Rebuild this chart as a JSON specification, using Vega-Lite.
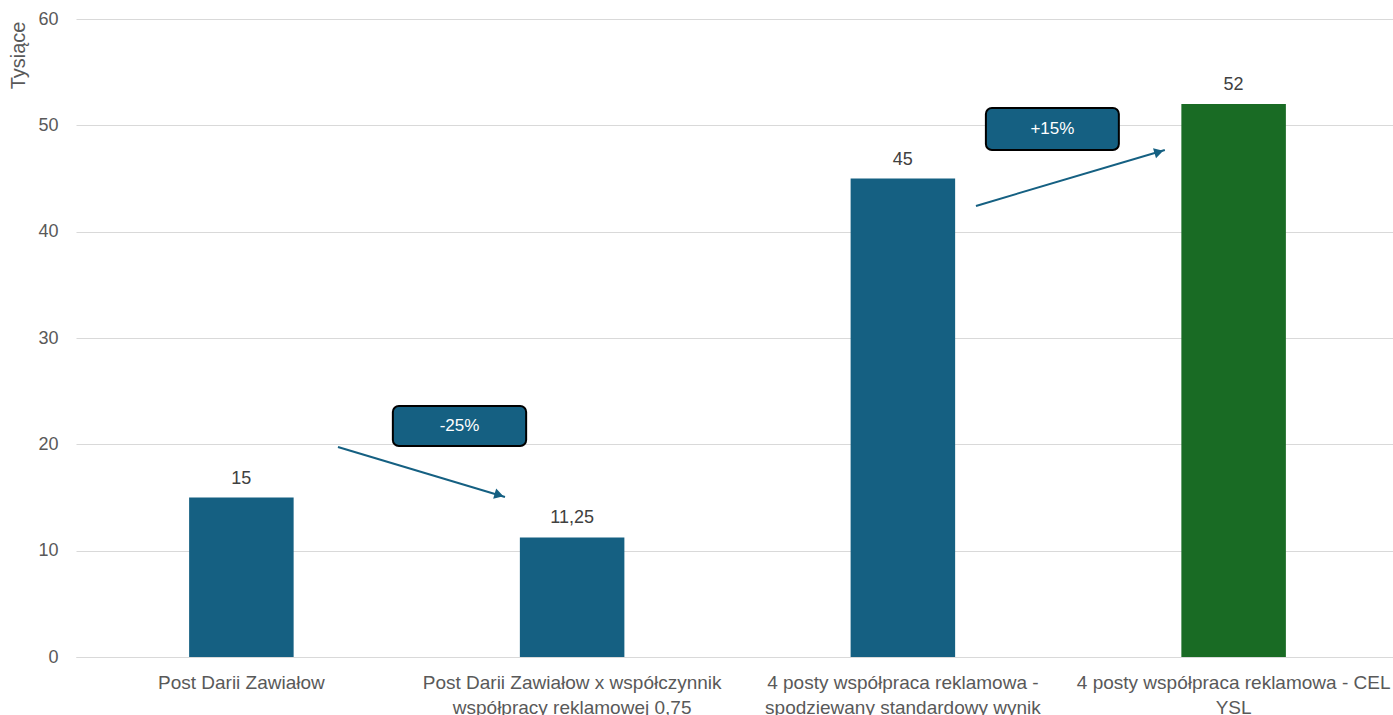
{
  "$schema": "https://vega.github.io/schema/vega-lite/v6.json",
  "autosize": {"type": "none"},
  "padding": {"left": 76, "top": 19, "right": 0, "bottom": 58},
  "width": 1323,
  "height": 638,
  "background": "white",
  "config": {"view": {"stroke": null}, "font": "Liberation Sans"},
  "datasets": {
    "bars": [
      {"kategoria": "Post Darii Zawiałow", "wartosc": 15, "etykieta": "15", "kolor": "niebieski"},
      {"kategoria": "Post Darii Zawiałow x współczynnik|współpracy reklamowej 0,75", "wartosc": 11.25, "etykieta": "11,25", "kolor": "niebieski"},
      {"kategoria": "4 posty współpraca reklamowa -|spodziewany standardowy wynik", "wartosc": 45, "etykieta": "45", "kolor": "niebieski"},
      {"kategoria": "4 posty współpraca reklamowa - CEL|YSL", "wartosc": 52, "etykieta": "52", "kolor": "zielony"}
    ],
    "arrows": [
      {"x0": 0.792, "y0": 19.75, "x1": 1.297, "y1": 15.05, "hx": 1.279, "hy": 15.24, "ang": 16.7},
      {"x0": 2.721, "y0": 42.42, "x1": 3.292, "y1": 47.68, "hx": 3.274, "hy": 47.49, "ang": -16.5}
    ],
    "boxes": [
      {"bx0": 0.958, "bx1": 1.361, "by0": 19.84, "by1": 23.6, "txt": "-25%"},
      {"bx0": 2.751, "bx1": 3.153, "by0": 47.68, "by1": 51.63, "txt": "+15%"}
    ]
  },
  "resolve": {"scale": {"x": "independent"}},
  "layer": [
    {
      "data": {"name": "bars"},
      "encoding": {
        "x": {
          "field": "kategoria", "type": "nominal", "sort": null,
          "scale": {"paddingInner": 0, "paddingOuter": 0},
          "axis": {
            "title": null, "labelAngle": 0, "domain": true, "domainColor": "#d9d9d9", "ticks": false,
            "labelExpr": "split(datum.value, '|')",
            "labelFontSize": 19, "labelColor": "#595959",
            "labelPadding": 16, "labelLineHeight": 25, "labelBaseline": "top", "labelLimit": 400
          }
        },
        "y": {
          "field": "wartosc", "type": "quantitative",
          "scale": {"domain": [0, 60], "nice": false},
          "axis": {
            "values": [0, 10, 20, 30, 40, 50, 60],
            "title": "Tysiące", "titleFontSize": 20, "titleFontWeight": "normal", "titleColor": "#595959",
            "titleX": -58, "titleY": 2, "titleAlign": "right", "titleBaseline": "middle", "titleAngle": -90,
            "labelFontSize": 18, "labelColor": "#595959", "labelPadding": 18,
            "domain": false, "ticks": false, "grid": true, "gridColor": "#d9d9d9", "gridWidth": 1
          }
        }
      },
      "layer": [
        {
          "mark": {"type": "bar", "width": {"band": 0.316}},
          "encoding": {
            "color": {
              "field": "kolor", "type": "nominal",
              "scale": {"domain": ["niebieski", "zielony"], "range": ["#156082", "#196B24"]},
              "legend": null
            }
          }
        },
        {
          "mark": {"type": "text", "baseline": "bottom", "dy": -10, "fontSize": 18, "color": "#404040"},
          "encoding": {"text": {"field": "etykieta"}}
        }
      ]
    },
    {
      "data": {"name": "arrows"},
      "layer": [
        {
          "mark": {"type": "rule", "color": "#156082", "strokeWidth": 2},
          "encoding": {
            "x": {"field": "x0", "type": "quantitative", "scale": {"domain": [0, 4], "nice": false, "zero": false}, "axis": null},
            "x2": {"field": "x1"},
            "y": {"field": "y0", "type": "quantitative"},
            "y2": {"field": "y1"}
          }
        },
        {
          "mark": {"type": "point", "shape": "triangle-right", "filled": true, "opacity": 1, "color": "#156082", "size": 110},
          "encoding": {
            "x": {"field": "hx", "type": "quantitative", "scale": {"domain": [0, 4], "nice": false, "zero": false}, "axis": null},
            "y": {"field": "hy", "type": "quantitative"},
            "angle": {"field": "ang", "type": "quantitative", "scale": null}
          }
        }
      ]
    },
    {
      "data": {"name": "boxes"},
      "layer": [
        {
          "mark": {"type": "rect", "fill": "#156082", "stroke": "#000000", "strokeWidth": 2, "cornerRadius": 6},
          "encoding": {
            "x": {"field": "bx0", "type": "quantitative", "scale": {"domain": [0, 4], "nice": false, "zero": false}, "axis": null},
            "x2": {"field": "bx1"},
            "y": {"field": "by0", "type": "quantitative"},
            "y2": {"field": "by1"}
          }
        },
        {
          "transform": [
            {"calculate": "(datum.bx0 + datum.bx1) / 2", "as": "mx"},
            {"calculate": "(datum.by0 + datum.by1) / 2", "as": "my"}
          ],
          "mark": {"type": "text", "color": "white", "fontSize": 17, "baseline": "middle", "align": "center"},
          "encoding": {
            "x": {"field": "mx", "type": "quantitative", "scale": {"domain": [0, 4], "nice": false, "zero": false}, "axis": null},
            "y": {"field": "my", "type": "quantitative"},
            "text": {"field": "txt"}
          }
        }
      ]
    }
  ]
}
